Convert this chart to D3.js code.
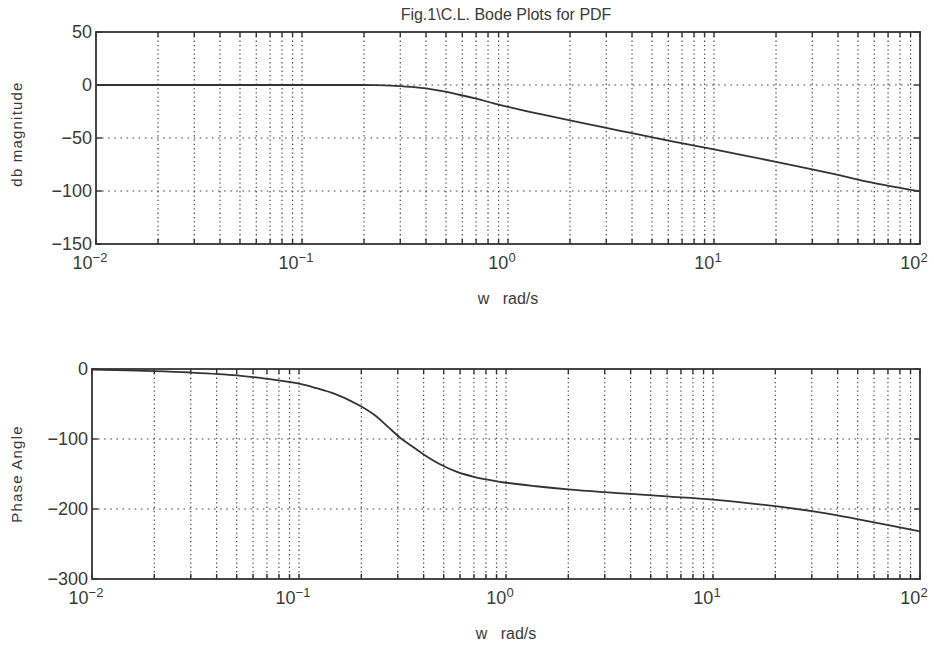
<!DOCTYPE html>
<html>
<head>
<meta charset="utf-8">
<script src="https://cdn.jsdelivr.net/npm/d3@7"></script>
<style>
  body { margin: 0; background: #fff; }
  svg { display: block; }
  text { font-family: "Liberation Sans", Arial, sans-serif; fill: #3a3a3a; }
</style>
</head>
<body>
<svg width="934" height="653"></svg>
<script>
// frequencies (rad/s)
const freq = [0.01, 0.02, 0.03, 0.05, 0.07, 0.1, 0.12, 0.15, 0.19, 0.23, 0.27, 0.31, 0.35,
              0.4, 0.48, 0.58, 0.7, 0.85, 1, 1.4, 2, 3, 4, 6, 10, 20, 30, 40, 60, 100];
const magDb = [0, 0, 0, 0, 0, 0, 0, 0, 0, -0.2, -0.6, -1.3, -2,
               -3.2, -5.8, -9.2, -12.9, -17.2, -20.6, -27, -33.3, -40.5, -45.4, -52.5, -60.8,
               -72.5, -79.6, -84.9, -92.6, -100.3];
const phaseDeg = [-1, -3, -5, -9, -14, -21, -27, -36, -50, -65, -83, -99, -110,
                  -122, -136, -147, -154, -159, -162.5, -167.5, -172, -176, -178.5, -182, -186.5,
                  -196, -203, -209, -219, -232];

const magTicks = [50, 0, -50, -100, -150];
const phaseTicks = [0, -100, -200, -300];
const decades = [0.01, 0.1, 1, 10, 100];
const expLabels = ["-2", "-1", "0", "1", "2"];

const titleText = "Fig.1\\C.L. Bode Plots for PDF";
const xLabel = "w   rad/s";

const svg = d3.select("svg");
const ink = "#333";

// minor grid positions 2..9 per decade
let minors = [];
for (let d = -2; d < 2; d++) {
  for (let k = 2; k <= 9; k++) minors.push(k * Math.pow(10, d));
}

function panel(opt) {
  const x = d3.scaleLog().domain([0.01, 100]).range([opt.left, opt.right]);
  const y = d3.scaleLinear().domain(opt.yDomain).range([opt.bottom, opt.top]);
  const g = svg.append("g");

  // vertical dotted grid
  g.selectAll(".vg").data(minors.concat(decades.slice(1, 4))).enter().append("line")
    .attr("x1", d => x(d)).attr("x2", d => x(d))
    .attr("y1", opt.top).attr("y2", opt.bottom)
    .attr("stroke", "#444").attr("stroke-width", 1.2)
    .attr("stroke-dasharray", "1.3,3");

  // horizontal dotted grid
  g.selectAll(".hg").data(opt.ticks.slice(1, -1)).enter().append("line")
    .attr("x1", opt.left).attr("x2", opt.right)
    .attr("y1", d => y(d)).attr("y2", d => y(d))
    .attr("stroke", "#444").attr("stroke-width", 1.2)
    .attr("stroke-dasharray", "1.6,4.5");

  // inner tick marks top/bottom
  const tx = minors.concat(decades);
  [opt.top, opt.bottom].forEach((yy, i) => {
    g.selectAll(".tk" + i).data(tx).enter().append("line")
      .attr("x1", d => x(d)).attr("x2", d => x(d))
      .attr("y1", yy).attr("y2", i === 0 ? yy + 5 : yy - 5)
      .attr("stroke", ink).attr("stroke-width", 1.4);
  });
  // inner tick marks left/right
  [opt.left, opt.right].forEach((xx, i) => {
    g.selectAll(".ty" + i).data(opt.ticks).enter().append("line")
      .attr("y1", d => y(d)).attr("y2", d => y(d))
      .attr("x1", xx).attr("x2", i === 0 ? xx + 6 : xx - 6)
      .attr("stroke", ink).attr("stroke-width", 1.4);
  });

  // frame
  g.append("rect")
    .attr("x", opt.left).attr("y", opt.top)
    .attr("width", opt.right - opt.left).attr("height", opt.bottom - opt.top)
    .attr("fill", "none").attr("stroke", ink).attr("stroke-width", 1.8);

  // y tick labels
  g.selectAll(".yl").data(opt.ticks).enter().append("text")
    .attr("x", opt.left - 4).attr("y", d => y(d) + 6)
    .attr("text-anchor", "end").attr("font-size", 18)
    .text(d => d < 0 ? "\u2212" + Math.abs(d) : d);

  // x tick labels 10^n
  const xl = g.selectAll(".xl").data(decades).enter().append("text")
    .attr("x", d => x(d) - 6).attr("y", opt.bottom + 25)
    .attr("text-anchor", "middle").attr("font-size", 18);
  xl.append("tspan").text("10");
  xl.append("tspan").attr("dy", -7).attr("font-size", 13)
    .text((d, i) => expLabels[i].replace("-", "\u2212"));

  // x label
  g.append("text")
    .attr("x", (opt.left + opt.right) / 2).attr("y", opt.bottom + 60)
    .attr("text-anchor", "middle").attr("font-size", 16)
    .attr("xml:space", "preserve")
    .text(xLabel);

  // y label
  g.append("text")
    .attr("transform", "translate(" + opt.ylabX + "," + opt.ylabY + ") rotate(-90)")
    .attr("text-anchor", "middle").attr("font-size", 15)
    .attr("letter-spacing", 1.2)
    .text(opt.yLabel);

  // curve
  const line = d3.line()
    .x(d => x(d[0]))
    .y(d => y(d[1]))
    .curve(d3.curveCatmullRom.alpha(0.5));
  g.append("path")
    .datum(d3.zip(freq, opt.values))
    .attr("fill", "none").attr("stroke", ink)
    .attr("stroke-width", 1.8)
    .attr("d", line);
}

panel({left: 96, right: 920, top: 32, bottom: 244, yDomain: [-150, 50],
       ticks: magTicks, values: magDb, yLabel: "db magnitude", ylabX: 22, ylabY: 134});
panel({left: 92, right: 920, top: 369, bottom: 579, yDomain: [-300, 0],
       ticks: phaseTicks, values: phaseDeg, yLabel: "Phase Angle", ylabX: 22, ylabY: 474});

svg.append("text")
  .attr("x", 506).attr("y", 20)
  .attr("text-anchor", "middle").attr("font-size", 16)
  .text(titleText);
</script>
</body>
</html>
